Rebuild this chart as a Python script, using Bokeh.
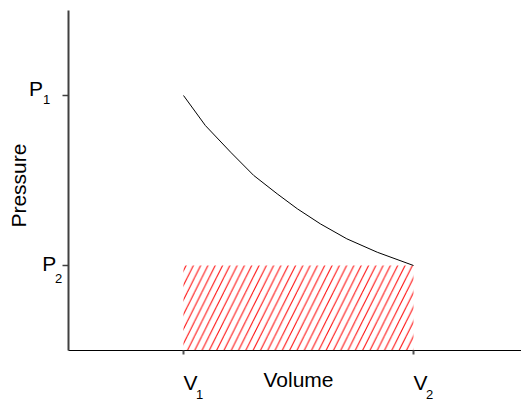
import math
from bokeh.plotting import figure
from bokeh.models import Label, FixedTicker, Range1d, LinearAxis
from bokeh.embed import file_html
from bokeh.resources import INLINE

# Data (arbitrary units: V1=1, V2=3, P1=3, P2=1)
volume = [1.0, 1.19, 1.41, 1.61, 1.815, 1.99, 2.19, 2.42, 2.685, 3.0]
pressure = [3.0, 2.647, 2.333, 2.06, 1.843, 1.667, 1.49, 1.314, 1.156, 1.0]
v_ticks = [1, 3]
p_ticks = [1, 3]
v_labels = ["V", "V"]
v_subs = ["1", "2"]
p_labels = ["P", "P"]
p_subs = ["2", "1"]
work_v = [1.0, 3.0]
work_p = [0.0, 1.0]
x_title = "Volume"
y_title = "Pressure"
x_max = 3.939
y_max = 4.0

FONT = "Liberation Sans"
W, H = 521, 401
X0, Y0 = 68, 350          # pixel position of the data origin
SX, SY = 115.0, 85.0      # pixels per data unit

p = figure(width=W, height=H, output_backend="svg", toolbar_location=None,
           x_range=Range1d(-X0 / SX, (W - X0) / SX),
           y_range=Range1d(-(H - Y0) / SY, Y0 / SY),
           x_axis_location=None, y_axis_location=None,
           min_border=0, min_border_left=0, min_border_right=0,
           min_border_top=0, min_border_bottom=0)
p.background_fill_color = "white"
p.border_fill_color = "white"
p.outline_line_color = None
p.grid.visible = False

# hatched work area
p.quad(left=work_v[0], right=work_v[1], bottom=work_p[0], top=work_p[1],
       fill_alpha=0, line_color=None,
       hatch_pattern="right_diagonal_line", hatch_color="red",
       hatch_scale=14.6, hatch_weight=1)

# expansion curve
p.line(volume, pressure, line_color="black", line_width=1)

xaxis = LinearAxis(fixed_location=0, bounds=(0, x_max),
                   ticker=FixedTicker(ticks=v_ticks),
                   axis_line_color="black", axis_line_width=1,
                   major_tick_in=4, major_tick_out=0,
                   major_tick_line_width=2, major_tick_line_color="#555555",
                   minor_tick_line_color=None,
                   major_label_text_font_size="0px", major_label_standoff=0,
                   major_label_overrides={t: "" for t in v_ticks})
yaxis = LinearAxis(fixed_location=0, bounds=(0, y_max),
                   ticker=FixedTicker(ticks=p_ticks),
                   axis_line_color="#404040", axis_line_width=2,
                   major_tick_in=6, major_tick_out=0,
                   major_tick_line_width=1.5, major_tick_line_color="#404040",
                   minor_tick_line_color=None,
                   major_label_text_font_size="0px", major_label_standoff=0,
                   major_label_overrides={t: "" for t in p_ticks})
p.add_layout(xaxis, "above")
p.add_layout(yaxis, "right")

BIG = "21px"
SMALL = "13px"

def lab(x, y, text, xo, yo, size, align="left", baseline="alphabetic", angle=0):
    p.add_layout(Label(x=x, y=y, x_offset=xo, y_offset=yo, text=text, angle=angle,
                       text_font=FONT, text_font_size=size, text_color="black",
                       text_align=align, text_baseline=baseline))

# x tick labels with subscripts
for v, t, s in zip(v_ticks, v_labels, v_subs):
    lab(v, 0, t, 0, -32, BIG)
    lab(v, 0, s, 12.6, -43.5, SMALL)

# y tick labels with subscripts (P1 at 3, P2 at 1)
p_pos = {3: (-39.6, 7, -25.4, -3.5), 1: (-26.3, 2, -13.4, -12.5)}
for pv, t, s in zip(p_ticks, p_labels, p_subs):
    xo, yo, sxo, syo = p_pos[pv]
    lab(0, pv, t, xo, yo, BIG)
    lab(0, pv, s, sxo, syo, SMALL)

# axis titles
lab(2.0, 0, x_title, 0, -29, BIG, align="center")
lab(0, 1.94, y_title, -50, 0, BIG, align="center", baseline="middle", angle=math.pi / 2)

open("out.html", "w").write(file_html(p, INLINE))
